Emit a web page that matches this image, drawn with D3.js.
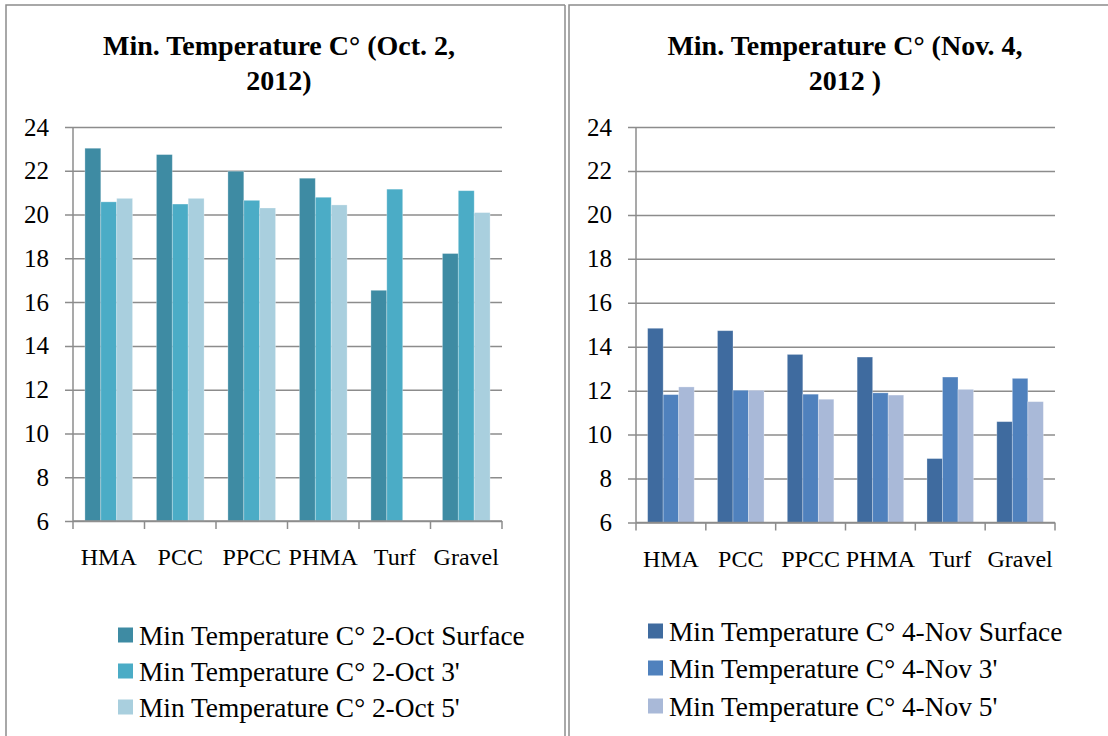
<!DOCTYPE html>
<html>
<head>
<meta charset="utf-8">
<script src="https://cdn.jsdelivr.net/npm/d3@7"></script>
<style>
  body { margin: 0; background: #fff; }
  text { font-family: "Liberation Serif", "Times New Roman", serif; fill: #000; }
</style>
</head>
<body>
<div id="chart"></div>
<script>
// surfaces on the x axis
const categories = ['HMA', 'PCC', 'PPCC', 'PHMA', 'Turf', 'Gravel'];
const yTicks = [6, 8, 10, 12, 14, 16, 18, 20, 22, 24];

// Oct. 2, 2012 (Turf has no 5' reading)
const octSurface = [23.03, 22.74, 21.98, 21.66, 16.54, 18.22];
const oct3ft = [20.58, 20.48, 20.65, 20.79, 21.16, 21.09];
const oct5ft = [20.74, 20.74, 20.30, 20.44, null, 20.09];
const octNames = ["Min Temperature C\u00B0 2-Oct Surface", "Min Temperature C\u00B0 2-Oct 3'", "Min Temperature C\u00B0 2-Oct 5'"];

// Nov. 4, 2012
const novSurface = [14.84, 14.73, 13.65, 13.53, 8.91, 10.59];
const nov3ft = [11.82, 12.02, 11.84, 11.90, 12.62, 12.56];
const nov5ft = [12.17, 12.02, 11.61, 11.80, 12.06, 11.50];
const novNames = ["Min Temperature C\u00B0 4-Nov Surface", "Min Temperature C\u00B0 4-Nov 3'", "Min Temperature C\u00B0 4-Nov 5'"];

const W = 1108, H = 736;
const gridColor = '#8c8c8c';

const svg = d3.select('#chart').append('svg')
  .attr('width', W)
  .attr('height', H);

function drawPanel(opt) {
  const g = svg.append('g');

  // panel frame (top + left edge)
  g.append('path')
    .attr('d', `M${opt.frameX},${H} V5 H${opt.frameRight}`)
    .attr('fill', 'none')
    .attr('stroke', gridColor)
    .attr('stroke-width', 1.5);

  // title, two lines
  g.append('text')
    .attr('x', opt.titleX)
    .attr('y', 55)
    .attr('text-anchor', 'middle')
    .style('font-weight', 'bold')
    .style('font-size', '28px')
    .text(opt.title[0]);
  g.append('text')
    .attr('x', opt.titleX)
    .attr('y', 90)
    .attr('text-anchor', 'middle')
    .style('font-weight', 'bold')
    .style('font-size', '28px')
    .text(opt.title[1]);

  const x = d3.scaleBand()
    .domain(categories)
    .range([opt.x0, opt.x1]);

  // excel style gap width 150%
  const xs = d3.scaleBand()
    .domain(d3.range(opt.series.length))
    .range([0, x.bandwidth()])
    .paddingInner(0)
    .paddingOuter(0.75);

  const y = d3.scaleLinear()
    .domain([6, 24])
    .range([opt.y0, opt.y1]);

  // gridlines + y labels
  const yAxis = g.append('g')
    .attr('transform', `translate(${opt.x0},0)`)
    .call(d3.axisLeft(y).tickValues(yTicks).tickSize(-(opt.x1 - opt.x0)).tickPadding(24));
  yAxis.attr('font-family', null);
  yAxis.select('.domain').remove();
  yAxis.selectAll('.tick line')
    .attr('x1', -8)
    .attr('stroke', gridColor)
    .attr('stroke-width', 1.5);
  yAxis.selectAll('.tick text')
    .attr('fill', '#000')
    .style('font-family', '"Liberation Serif", serif')
    .style('font-size', '25px');

  // bars
  opt.series.forEach((vals, si) => {
    g.append('g')
      .selectAll('rect')
      .data(categories.map((c, i) => ({ c, v: vals[i] })).filter(d => d.v != null))
      .enter()
      .append('rect')
      .attr('x', d => x(d.c) + xs(si))
      .attr('width', xs.bandwidth())
      .attr('y', d => y(d.v))
      .attr('height', d => y(6) - y(d.v))
      .attr('fill', opt.colors[si])
      .attr('stroke', 'rgba(255,255,255,0.35)')
      .attr('stroke-width', 0.8);
  });

  // y axis line
  g.append('line')
    .attr('x1', opt.x0).attr('x2', opt.x0)
    .attr('y1', opt.y1).attr('y2', opt.y0)
    .attr('stroke', gridColor)
    .attr('stroke-width', 1.5);

  // x axis line with ticks between categories
  g.append('line')
    .attr('x1', opt.x0).attr('x2', opt.x1)
    .attr('y1', opt.y0).attr('y2', opt.y0)
    .attr('stroke', gridColor)
    .attr('stroke-width', 1.5);
  const bounds = categories.map(c => x(c)).concat([opt.x1]);
  g.selectAll('.xtick')
    .data(bounds)
    .enter()
    .append('line')
    .attr('x1', d => d).attr('x2', d => d)
    .attr('y1', opt.y0).attr('y2', opt.y0 + 8)
    .attr('stroke', gridColor)
    .attr('stroke-width', 1.5);

  g.selectAll('.xlabel')
    .data(categories)
    .enter()
    .append('text')
    .attr('x', d => x(d) + x.bandwidth() / 2)
    .attr('y', opt.y0 + 44)
    .attr('text-anchor', 'middle')
    .style('font-size', '24px')
    .text(d => d);

  // legend
  const leg = g.append('g');
  opt.names.forEach((name, i) => {
    const cy = opt.legendY[i];
    leg.append('rect')
      .attr('x', opt.legendX)
      .attr('y', cy - 7.5)
      .attr('width', 15)
      .attr('height', 15)
      .attr('fill', opt.colors[i]);
    leg.append('text')
      .attr('x', opt.legendX + 21)
      .attr('y', cy)
      .attr('dy', '0.35em')
      .style('font-size', '27.4px')
      .text(name);
  });
}

drawPanel({
  frameX: 6, frameRight: 565,
  title: ['Min. Temperature C\u00B0 (Oct. 2,', '2012)'],
  titleX: 279,
  x0: 73, x1: 502, y0: 521, y1: 127,
  series: [octSurface, oct3ft, oct5ft],
  colors: ['#3e8ba3', '#4bacc6', '#a9cfde'],
  names: octNames,
  legendX: 118, legendY: [635, 671, 707]
});

drawPanel({
  frameX: 569, frameRight: W,
  title: ['Min. Temperature C\u00B0 (Nov. 4,', '2012 )'],
  titleX: 845,
  x0: 636, x1: 1055, y0: 522.5, y1: 127,
  series: [novSurface, nov3ft, nov5ft],
  colors: ['#3f6b9f', '#4f81bd', '#a9b9d8'],
  names: novNames,
  legendX: 648, legendY: [631, 668, 706]
});

// the double rule between the panels
svg.append('line')
  .attr('x1', 565).attr('x2', 565)
  .attr('y1', 5).attr('y2', H)
  .attr('stroke', gridColor)
  .attr('stroke-width', 1.5);
</script>
</body>
</html>
